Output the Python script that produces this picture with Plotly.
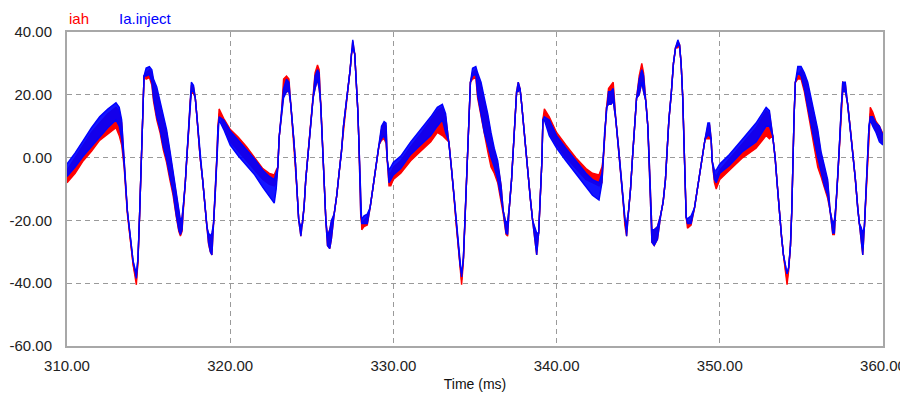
import plotly.graph_objects as go

# ---- data (time in ms, current values) ----
# Each series is drawn as a ripple band between an upper and a lower envelope.
time_ms = (
    [310.00, 310.50, 311.00, 311.50, 312.00, 312.50, 313.00, 313.20, 313.35, 313.50]
    + [313.70, 313.90, 314.05, 314.25, 314.35, 314.45, 314.55, 314.65, 314.72, 314.85]
    + [315.05, 315.20, 315.30, 315.50, 315.70, 315.90, 316.10, 316.30, 316.50, 316.70]
    + [316.85, 316.95, 317.05, 317.15, 317.25, 317.35, 317.45, 317.55, 317.62, 317.75]
    + [317.86, 317.96, 318.06, 318.16, 318.31, 318.47, 318.57, 318.67, 318.78, 318.88]
    + [318.98, 319.08, 319.18, 319.25, 319.32, 319.60, 320.00, 320.50, 321.00, 321.50]
    + [322.00, 322.40, 322.70, 322.82, 322.92, 323.00, 323.14, 323.27, 323.45, 323.60]
    + [323.71, 323.80, 323.90, 324.00, 324.10, 324.20, 324.33, 324.43, 324.53, 324.63]
    + [324.78, 324.94, 325.08, 325.20, 325.35, 325.45, 325.55, 325.61, 325.69, 325.76]
    + [325.86, 325.96, 326.10, 326.20, 326.37, 326.53, 326.67, 326.82, 326.94, 327.08]
    + [327.22, 327.35, 327.43, 327.51, 327.63, 327.73, 327.82, 327.88, 327.94, 328.00]
    + [328.06, 328.20, 328.40, 328.57, 328.71, 328.86, 328.98, 329.12, 329.27, 329.43, 329.55, 329.63, 329.73, 329.84]
    + [330.00, 330.45, 331.06, 331.67, 332.29, 332.69, 333.00, 333.20, 333.40, 333.55]
    + [333.71, 333.86, 333.98, 334.08, 334.18, 334.29, 334.37, 334.47, 334.57, 334.65]
    + [334.72, 334.85, 335.05, 335.16, 335.37, 335.57, 335.78, 335.98, 336.18, 336.39]
    + [336.60, 336.73, 336.90, 337.00, 337.10, 337.24, 337.35, 337.45, 337.55, 337.65]
    + [337.76, 337.86, 337.96, 338.12, 338.27, 338.39, 338.53, 338.65, 338.78, 338.90]
    + [339.00, 339.10, 339.16, 339.25, 339.55, 340.00, 340.57, 341.18, 341.80, 342.20]
    + [342.60, 342.78, 342.86, 342.94, 343.06, 343.18, 343.33, 343.47, 343.63, 343.80]
    + [343.94, 344.08, 344.18, 344.29, 344.41, 344.53, 344.65, 344.78, 344.90, 345.06]
    + [345.22, 345.33, 345.47, 345.59, 345.67, 345.76, 345.84, 345.98, 346.18, 346.39]
    + [346.53, 346.67, 346.76, 346.88, 347.02, 347.16, 347.29, 347.43, 347.53, 347.63]
    + [347.73, 347.80, 347.86, 347.94, 348.02, 348.24, 348.45, 348.65, 348.80, 348.96]
    + [349.10, 349.27, 349.37, 349.47, 349.53, 349.67, 349.78]
    + [350.00, 350.59, 351.41, 352.22, 352.84, 353.04, 353.24, 353.39, 353.51, 353.65]
    + [353.78, 353.90, 354.02, 354.12, 354.22, 354.33, 354.41, 354.47, 354.55, 354.63]
    + [354.78, 354.98, 355.18, 355.39, 355.59, 355.80, 356.00, 356.20, 356.41, 356.61]
    + [356.76, 356.92, 357.02, 357.12, 357.24, 357.35, 357.45, 357.53, 357.69, 357.84]
    + [357.98, 358.14, 358.31, 358.45, 358.55, 358.65, 358.76, 358.86, 358.96, 359.06]
    + [359.14, 359.22, 359.37, 359.57, 359.78, 360.00]
)

inject_hi = (
    [-2, 1.5, 5.5, 9.5, 13, 15.5, 17.5, 16, 12, -2]
    + [-17, -26, -33, -37, -32, -18, -2, 12, 26, 28.5]
    + [29, 28, 25, 22.5, 18, 13, 9, 2.5, -5, -11]
    + [-16.5, -20, -19, -14, -8, 1, 8, 18, 24, 23]
    + [19, 13, 6, 0, -7, -16, -22, -24, -25, -24]
    + [-21, -12, 0, 10, 13, 12, 8.5, 5.5, 2.5, -0.5]
    + [-4, -6, -7, -5, -3, 6.5, 14, 22, 25, 24]
    + [17, 12, 5.5, -2, -11, -20, -22, -21, -15.5, -7]
    + [1.5, 12, 19, 26, 28, 27, 17, 10, 2, -8]
    + [-20, -25, -23, -20, -18, -12, -5, 2, 10, 16]
    + [22, 28, 33, 37.5, 33, 25, 15, 6, -6, -18]
    + [-19.5, -18.5, -18, -16, -11, -5, 0, 4, 10, 11.5, 11, -1, -4, -3]
    + [-1.5, 0.5, 5, 9, 13, 16, 17, 14, 5, -3]
    + [-12, -22, -29, -34, -37, -32, -22, -10, 3, 14]
    + [24, 28.5, 29, 27, 24, 19, 14, 8, 3, -1]
    + [-9, -17, -21, -20, -16, -7, 3, 13, 21, 24]
    + [22, 17, 11, 1.5, -6, -13, -20, -22, -24, -24]
    + [-12, -1, 12, 13, 12, 7, 3, -1, -5, -7]
    + [-8, -5, 0, 8, 16, 21, 21, 22, 12, 3]
    + [-5, -14, -20, -21, -17, -10, 0, 10, 19, 25]
    + [28, 26, 18, 10, 0, -13, -23, -23, -22, -18]
    + [-14, -7, 1.5, 12, 20, 30, 35, 37.5, 36, 30]
    + [19, 5.5, -8, -19, -19.5, -18.5, -16, -9, -4, 1]
    + [6, 11, 11, 6, -1, -4, -4]
    + [-2, 1, 6, 11, 16, 15, 7, 0, -8, -18]
    + [-25, -31, -35, -37, -35, -28, -17, -1, 13, 24]
    + [29, 29, 27, 24, 19, 14, 9, 2, -3, -7]
    + [-17, -21, -20, -15, -5, 6, 17, 24, 24, 17]
    + [10, 2, -7, -16, -21, -22, -24, -22, -12, -1]
    + [10, 13, 13, 11, 10, 7]
)

inject_lo = (
    [-6, -3, 0.5, 3.5, 6.5, 9.5, 12, 10, 6, -2]
    + [-17, -26, -33, -38.5, -32, -18, -2, 12, 26, 26]
    + [26.5, 24, 19, 13, 9, 3.5, -0.5, -6, -11, -18.5]
    + [-23, -24.5, -23, -14, -8, 1, 8, 18, 21, 21]
    + [19, 13, 6, 0, -7, -16, -22, -27, -30, -31]
    + [-21, -12, 0, 10, 12, 9, 4, 0.5, -2.5, -5.5]
    + [-9.5, -12.5, -14.5, -10, -3, 6.5, 14, 19, 21, 21]
    + [17, 12, 5.5, -2, -11, -20, -25, -21, -15.5, -7]
    + [1.5, 12, 19, 22, 25, 22, 17, 10, 2, -8]
    + [-20, -28, -29, -26, -18, -12, -5, 2, 10, 16]
    + [22, 28, 33, 35, 33, 25, 15, 6, -6, -18]
    + [-21, -21, -21, -16, -11, -5, 0, 4, 6, 7, 5, -1, -8, -7]
    + [-5.5, -3.5, 1, 4, 7, 10, 12, 8, 5, -3]
    + [-12, -22, -29, -34, -38, -32, -22, -10, 3, 14]
    + [24, 26, 26.5, 20, 14, 8, 4, 0, -3, -7]
    + [-13, -17, -24, -24.5, -16, -7, 3, 13, 21, 21]
    + [22, 17, 11, 1.5, -6, -13, -20, -26, -31, -24]
    + [-12, -1, 12, 12, 7, 3, -1, -5, -9, -12]
    + [-13.5, -8, 0, 8, 16, 17, 17, 18, 12, 3]
    + [-5, -14, -21, -25, -17, -10, 0, 10, 19, 20]
    + [24, 21, 18, 10, 0, -13, -27, -28, -26, -18]
    + [-14, -7, 1.5, 12, 20, 30, 35, 35.5, 36, 30]
    + [19, 5.5, -8, -19, -21, -21, -16, -9, -4, 1]
    + [6, 7, 7, 6, -1, -7, -8]
    + [-5, -2.5, 2, 5, 10, 10, 7, 0, -8, -18]
    + [-25, -31, -35, -37, -35, -28, -17, -1, 13, 24]
    + [27, 26, 22, 16, 10, 5, 0, -4, -9, -12]
    + [-17, -24, -24, -15, -5, 6, 17, 21, 21, 17]
    + [10, 2, -7, -16, -21, -27, -31, -22, -12, -1]
    + [10, 12, 10, 8, 5, 4]
)

iah_hi = (
    [-4, 0, 4, 8, 11, 14, 16, 15, 11, -2]
    + [-17, -27, -34, -39, -33, -18, -2, 12, 26, 27]
    + [28, 27, 24, 21, 17, 12, 8, 1.5, -5, -11]
    + [-17, -20.5, -19, -15, -8, 1, 8, 18, 23, 22.5]
    + [19, 13, 6, 0, -7, -16, -22, -25, -26, -25]
    + [-21, -12, 0, 10, 15.5, 12.5, 9, 6.5, 3.5, 0]
    + [-3.5, -5, -5.5, -4, -3, 6.5, 14, 25, 26, 25]
    + [17, 12, 5.5, -2, -11, -20, -22.5, -21, -15.5, -7]
    + [1.5, 12, 19, 27, 29.5, 28, 17, 10, 2, -8]
    + [-20, -25, -23, -20.5, -18, -12, -5, 2, 10, 16]
    + [22, 28, 33, 37, 33, 25, 15, 6, -6, -19]
    + [-21, -20, -19, -16, -11, -5, 0, 4, 9, 11, 10, -1, -5, -5]
    + [-3, -1, 3.5, 7.5, 12, 15, 16, 13, 5, -3]
    + [-12, -22, -29, -34, -39, -32, -22, -10, 3, 14]
    + [24, 27, 28, 26, 23, 18, 13, 7, 2, -2]
    + [-9, -17, -21, -20.5, -16, -7, 3, 13, 21, 24]
    + [22, 17, 11, 1.5, -6, -13, -20, -22.5, -25, -24]
    + [-12, -1, 12, 15.5, 13, 8, 4, 0, -3.5, -5]
    + [-5.5, -3, 0, 8, 16, 22, 23, 24, 12, 3]
    + [-5, -14, -20, -21, -17, -10, 0, 10, 19, 26]
    + [30, 27, 18, 10, 0, -13, -23, -23, -22, -18]
    + [-14, -7, 1.5, 12, 20, 30, 35, 37, 36, 30]
    + [19, 5.5, -8, -19, -21, -20, -16, -9, -4, 1]
    + [6, 10, 10.5, 6, -1, -5, -6]
    + [-4, -0.5, 4.5, 9.5, 15, 14, 7, 0, -8, -18]
    + [-25, -31, -35, -39, -35, -28, -17, -1, 13, 24]
    + [26, 28, 26, 23, 18, 13, 8, 1, -4, -8]
    + [-17, -21, -20.5, -15, -5, 6, 17, 24, 23.5, 17]
    + [10, 2, -7, -16, -21, -23, -25, -22, -12, -1]
    + [10, 16, 14.5, 11.5, 10, 7.5]
)

iah_lo = (
    [-8, -5, -1, 2, 5.5, 7.5, 9.5, 7, 4, -3]
    + [-18, -27, -34, -40.5, -33, -18, -2, 12, 26, 25]
    + [25.5, 23, 18, 12, 8, 2.5, -1.5, -7, -12, -19]
    + [-23.5, -25, -23.5, -15, -8, 1, 8, 18, 20.5, 20.5]
    + [19, 13, 6, 0, -7, -16, -22, -27.5, -30, -31]
    + [-21, -12, 0, 10, 14, 10, 5, 2, -1, -4]
    + [-7, -8.5, -9, -8, -3, 6.5, 14, 20, 21, 21]
    + [17, 12, 5.5, -2, -11, -20, -25, -21, -15.5, -7]
    + [1.5, 12, 19, 22, 25, 22, 17, 10, 2, -8]
    + [-20, -28, -29, -26, -18, -12, -5, 2, 10, 16]
    + [22, 28, 33, 35, 33, 25, 15, 6, -6, -19]
    + [-23, -22, -21.5, -16, -11, -5, 0, 4, 5.5, 6, 4.5, -1, -9, -9]
    + [-7, -5, -1, 2, 5, 8, 7, 6, 5, -3]
    + [-12, -22, -29, -35, -40.5, -33, -22, -10, 3, 14]
    + [24, 25, 25.5, 19, 13, 7, 2, -3, -5, -8]
    + [-14, -18, -24.5, -25, -16, -7, 3, 13, 21, 21]
    + [22, 17, 11, 1.5, -6, -13, -20, -26, -31, -24]
    + [-12, -1, 12, 14, 8, 4, 0, -3.5, -7, -8]
    + [-9, -8, 0, 8, 16, 17, 17, 18, 12, 3]
    + [-5, -14, -21.5, -25, -17, -10, 0, 10, 19, 20]
    + [24, 21, 18, 10, 0, -13, -27, -28, -26, -18]
    + [-14, -7, 1.5, 12, 20, 30, 35, 35, 36, 30]
    + [19, 5.5, -8, -19, -22.5, -21.5, -16, -9, -4, 1]
    + [6, 6, 6, 6, -1, -8, -10]
    + [-7, -4, 0, 3, 7, 6, 7, 0, -8, -18]
    + [-25, -31, -36, -40.5, -36, -28, -17, -1, 13, 24]
    + [25, 25, 21, 15, 9, 3, -3, -6, -10, -13]
    + [-17, -24.5, -24.5, -15, -5, 6, 17, 21, 21, 17]
    + [10, 2, -7, -16, -21, -27.5, -31, -22, -12, -1]
    + [10, 14, 11, 8.5, 6, 4.5]
)

n = len(time_ms)
assert all(len(a) == n for a in (inject_hi, inject_lo, iah_hi, iah_lo)), \
    [len(a) for a in (time_ms, inject_hi, inject_lo, iah_hi, iah_lo)]

x_ticks = [310, 320, 330, 340, 350, 360]
x_tick_labels = ["310.00", "320.00", "330.00", "340.00", "350.00", "360.00"]
y_ticks = [-60, -40, -20, 0, 20, 40]
y_tick_labels = ["-60.00", "-40.00", "-20.00", "0.00", "20.00", "40.00"]

series_names = ["iah", "Ia.inject"]
RED = "#ff0000"
BLUE = "#0000ff"
FONT = "Liberation Sans, Arial, sans-serif"

fig = go.Figure()
for hi, lo, col, fillcol, name in [(iah_hi, iah_lo, RED, "#ff0000", series_names[0]),
                                   (inject_hi, inject_lo, BLUE, "rgba(0,0,255,0.92)", series_names[1])]:
    fig.add_trace(go.Scatter(x=time_ms, y=hi, mode="lines", name=name,
                             line=dict(color=col, width=1.4), showlegend=False,
                             hoverinfo="skip"))
    fig.add_trace(go.Scatter(x=time_ms, y=lo, mode="lines", name=name,
                             line=dict(color=col, width=1.4), fill="tonexty",
                             fillcolor=fillcol, showlegend=False, hoverinfo="skip"))

grid = dict(showgrid=True, gridcolor="#9a9a9a", griddash="5px,4px", gridwidth=1,
            zeroline=False, showline=True, mirror=True, linecolor="#a8a8a8",
            linewidth=2, ticks="outside", tickcolor="rgba(0,0,0,0)",
            automargin=False,
            tickfont=dict(family=FONT, size=15, color="#222222"))

fig.update_xaxes(range=[310, 360], tickvals=x_ticks, ticktext=x_tick_labels,
                 ticklen=5, title=dict(text="Time (ms)", standoff=6,
                                       font=dict(family=FONT, size=14, color="#111111")),
                 **grid)
fig.update_yaxes(range=[-60, 40], tickvals=y_ticks, ticktext=y_tick_labels,
                 ticklen=10, **grid)

fig.add_annotation(text=series_names[0], xref="paper", yref="paper", x=0.0, y=1.042,
                   xanchor="left", yanchor="middle", showarrow=False,
                   font=dict(family=FONT, size=15, color=RED))
fig.add_annotation(text=series_names[1], xref="paper", yref="paper", x=0.061, y=1.042,
                   xanchor="left", yanchor="middle", showarrow=False,
                   font=dict(family=FONT, size=15, color=BLUE))

# The page body adds an 8px offset, so the figure is sized 900x391 to fill the window.
fig.update_layout(width=900, height=391, margin=dict(l=59, r=25, t=24, b=53, autoexpand=False),
                  plot_bgcolor="white", paper_bgcolor="white",
                  font=dict(family=FONT))
fig.write_html("out.html")
